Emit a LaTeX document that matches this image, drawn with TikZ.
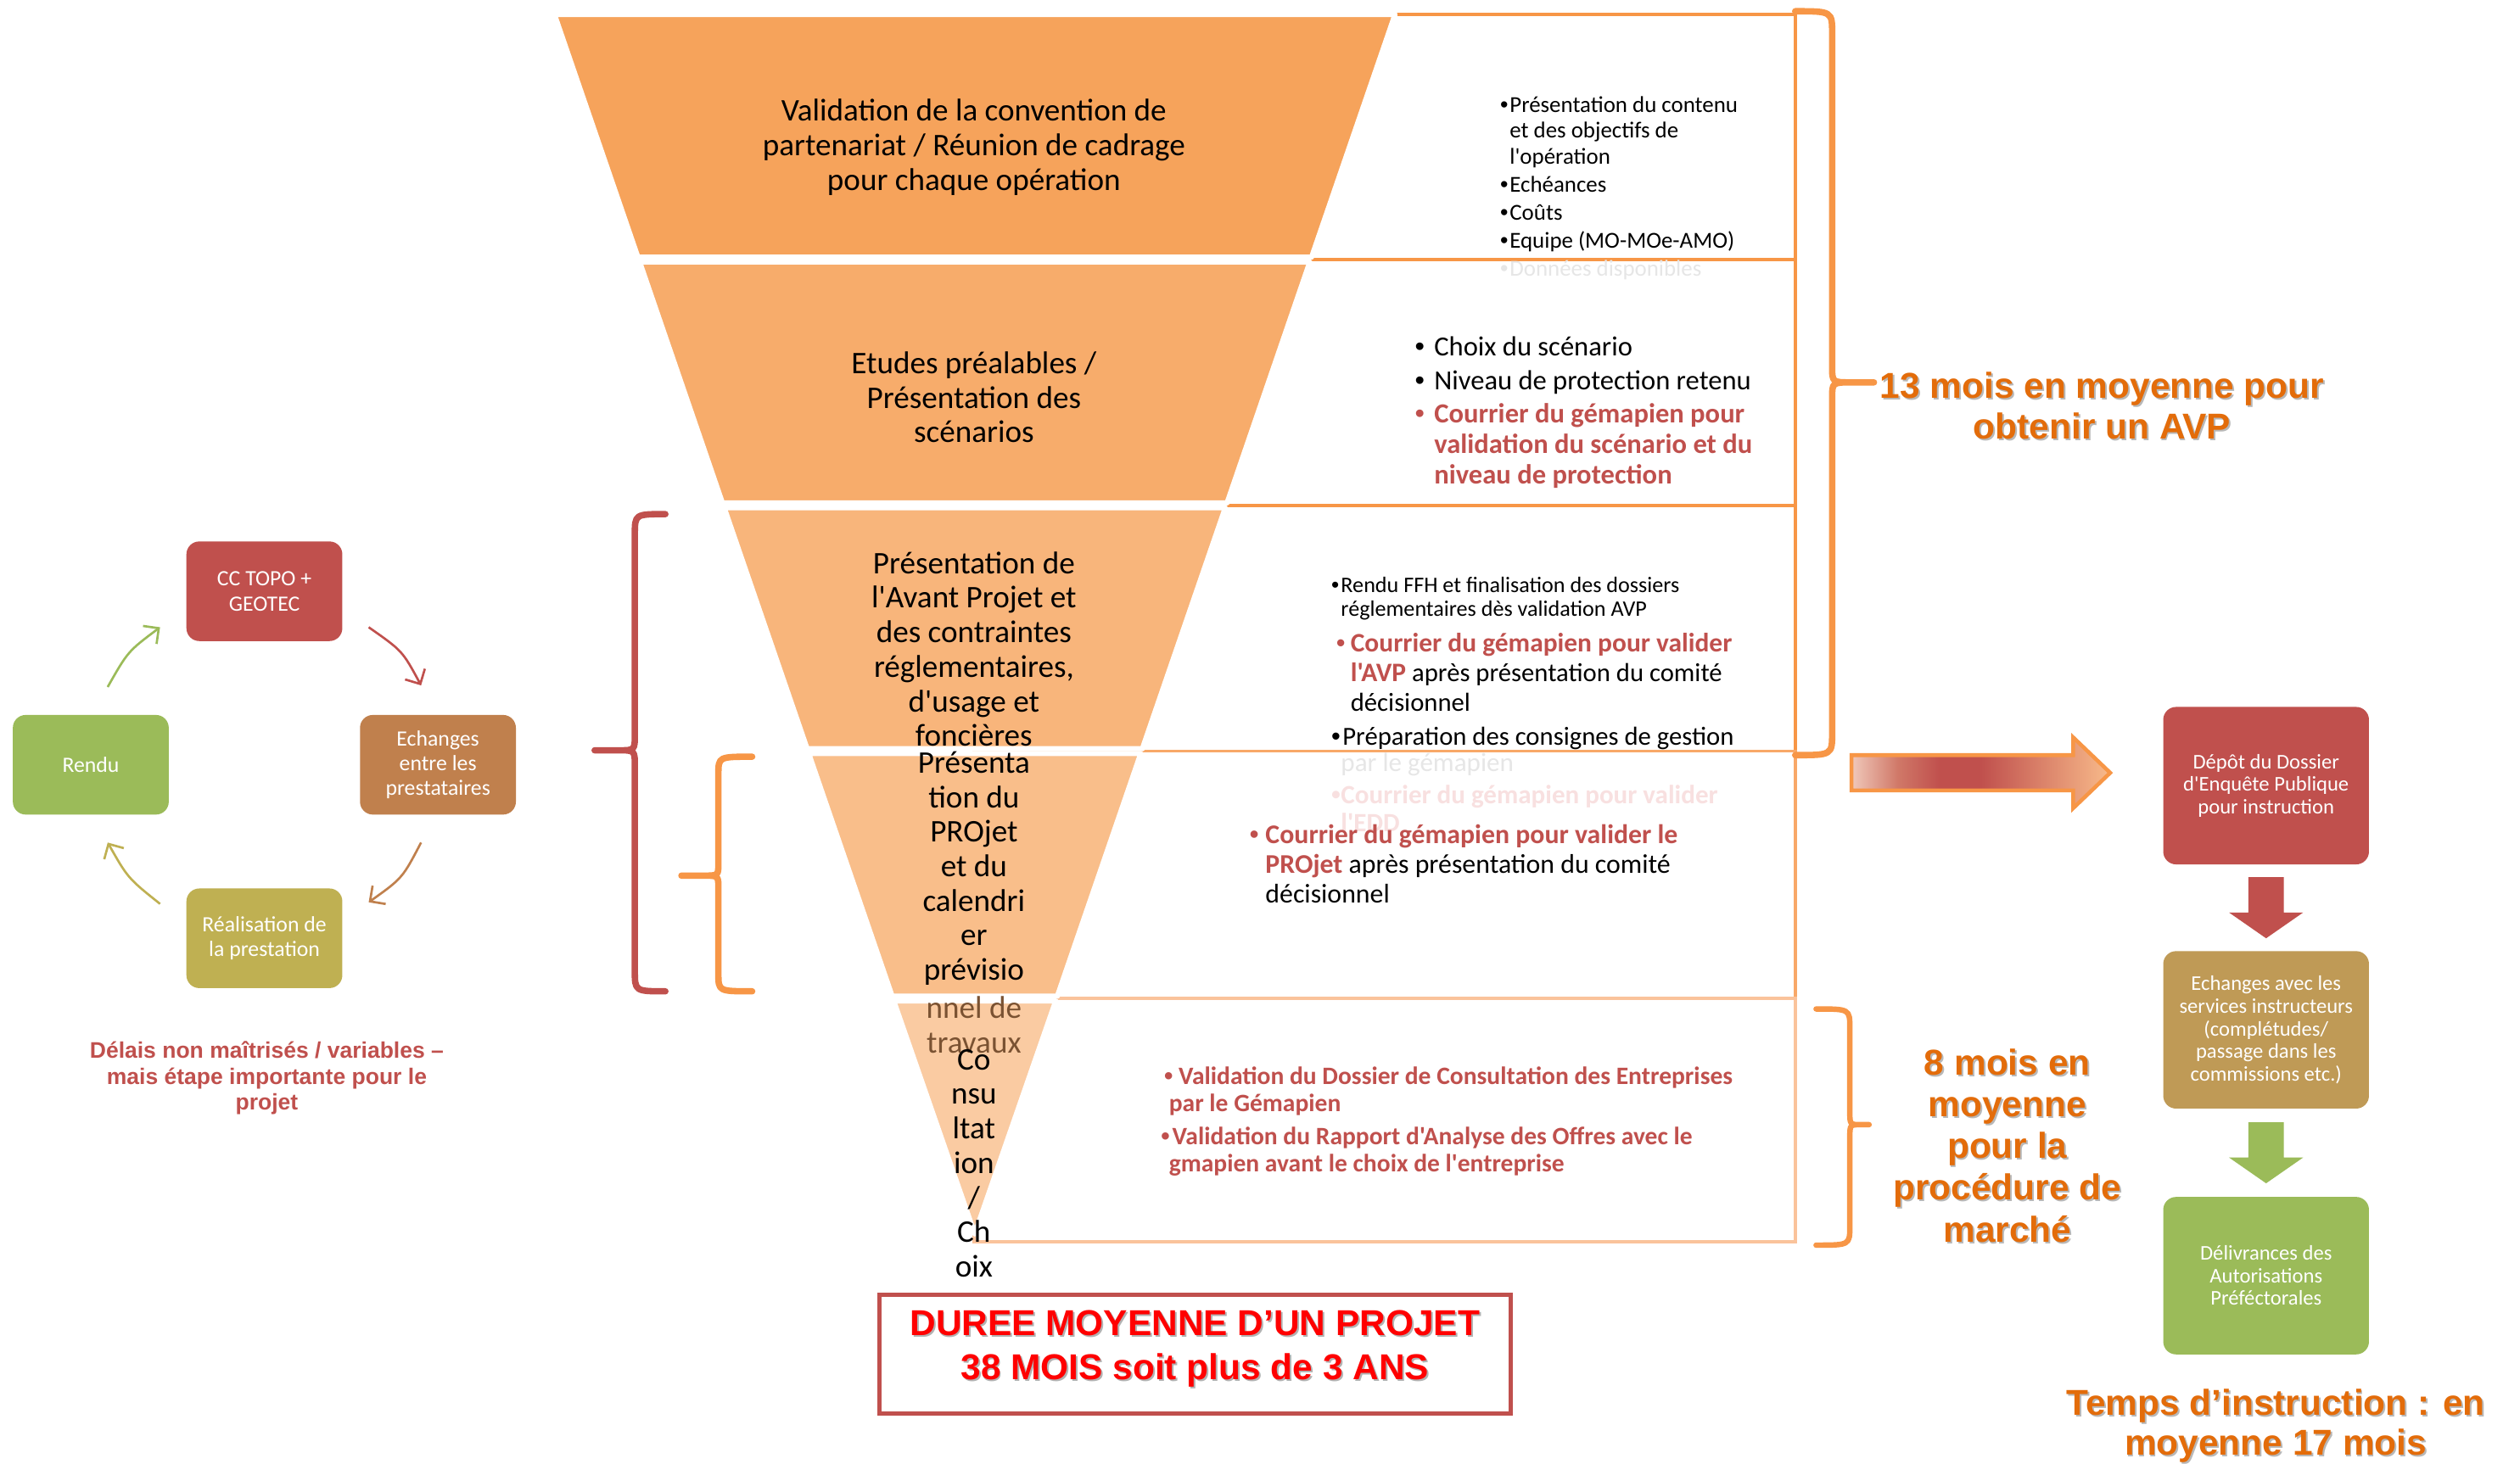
\documentclass[tikz,border=0pt]{standalone}
\usepackage{fontspec}
\newfontfamily\calibrif{Carlito}
\newfontfamily\arialf{Liberation Sans}
\setmainfont{Carlito}
\usetikzlibrary{arrows.meta,calc}

\definecolor{cRed}{HTML}{C0504D}
\definecolor{cOrange}{HTML}{F79646}
\definecolor{cGreen}{HTML}{9BBB59}
\definecolor{cBrown}{HTML}{C0804D}
\definecolor{cOlive}{HTML}{BFB052}
\definecolor{cTan}{HTML}{BF9A56}
\definecolor{fillA}{HTML}{F6A35B}
\definecolor{fillB}{HTML}{F7AC6B}
\definecolor{fillC}{HTML}{F8B57B}
\definecolor{fillD}{HTML}{F9BE8A}
\definecolor{fillE}{HTML}{FACBA2}
\definecolor{lineD}{HTML}{F8A868}
\definecolor{lineE}{HTML}{FAC39B}
\definecolor{txtOrange}{HTML}{E36C0A}
\definecolor{txtBrown}{HTML}{7A5232}
\definecolor{ghostGray}{HTML}{E6E6E6}
\definecolor{ghostPink}{HTML}{F8E0E0}
\definecolor{alertRed}{HTML}{FF0000}
\definecolor{arA}{HTML}{F0C8BA}
\definecolor{arB}{HTML}{D07868}
\definecolor{arC}{HTML}{F8BA8A}

% list bullet, taken from the sans family for a rounder dot
\newcommand\bul[1]{\makebox[#1][l]{{\arialf •}}}

\pgfdeclarehorizontalshading{bigarrow}{100bp}{color(0bp)=(arA); color(25bp)=(arA); color(34bp)=(arB); color(42bp)=(cRed); color(50bp)=(cRed); color(75bp)=(arC); color(100bp)=(arC)}

\tikzset{
  rowbox/.style={line width=1pt, fill=white},
  trap/.style={draw=white, line width=1.6pt, line join=round},
  funtxt/.style={align=center, inner sep=0pt, font=\calibrif\fontsize{9.8}{10.75}\selectfont},
  listtxt/.style={anchor=west, align=left, inner sep=0pt},
  cbox/.style={rounded corners=4pt, inner sep=0pt, minimum width=48.5pt, minimum height=31pt,
    align=center, text=white, font=\calibrif\fontsize{6.8}{7.75}\selectfont},
  rbox/.style={rounded corners=4pt, inner sep=0pt, minimum width=64pt, minimum height=49pt,
    align=center, text=white, font=\calibrif\fontsize{6.5}{7}\selectfont},
  bigtxt/.style={align=center, inner sep=0pt, text=txtOrange, font=\arialf\bfseries\fontsize{11.2}{12.5}\selectfont},
  bigshadow/.style={bigtxt, text=black!28},
  brace/.style={line width=2pt, line cap=round, line join=round},
  cyc/.style={line width=0.7pt, -{Straight Barb[length=3.5pt,width=7pt]}},
}

\begin{document}
\begin{tikzpicture}[x=0.5pt,y=-0.5pt]
\useasboundingbox (0,0) rectangle (1568,911);
\fill[white] (0,0) rectangle (1568,911);

% ---- row frames on the right of the funnel
\draw[rowbox, draw=cOrange] (606,9) rectangle (1117,161.5);
\draw[rowbox, draw=cOrange] (606,161.5) rectangle (1117,314.5);
\draw[rowbox, draw=cOrange] (606,314.5) rectangle (1117,467.5);
\draw[rowbox, draw=lineD] (606,467.5) rectangle (1117,621.5);
\draw[rowbox, draw=lineE] (606,621.5) rectangle (1117,773);

% ---- funnel layers
\filldraw[trap, fill=fillA] (345,9) -- (868,9) -- (816.1,160) -- (396.9,160) -- cycle;
\filldraw[trap, fill=fillB] (398.0,163) -- (815.0,163) -- (763.5,313) -- (449.5,313) -- cycle;
\filldraw[trap, fill=fillC] (450.6,316) -- (762.4,316) -- (710.8,466) -- (502.2,466) -- cycle;
\filldraw[trap, fill=fillD] (503.2,469) -- (709.8,469) -- (657.9,620) -- (555.1,620) -- cycle;

\node[funtxt] (f1) at (606,91.7) {Validation de la convention de\\partenariat / Réunion de cadrage\\pour chaque opération};
\node[funtxt] (f2) at (606,247.3) {Etudes préalables /\\Présentation des\\scénarios};
\node[funtxt] (f3) at (606,404) {Présentation de\\l'Avant Projet et\\des contraintes\\réglementaires,\\d'usage et\\foncières};
\node[funtxt] (f4) at (606,540.5) {Présenta\\tion du\\PROjet\\et du\\calendri\\er\\prévisio};

\filldraw[trap, fill=fillE] (556.1,623) -- (656.9,623) -- (606.5,768) -- cycle;
\node[funtxt, text=txtBrown] (f4b) at (606,638) {nnel de\\travaux};
\node[funtxt] (f5) at (606,724) {Co\\nsu\\ltat\\ion\\/\\Ch\\oix};

% ---- descriptions of each stage
\node[listtxt, text=ghostGray, font=\calibrif\fontsize{7.1}{8}\selectfont] (g1) at (933,168) {\bul{3pt}Données disponibles};
\node[listtxt, font=\calibrif\fontsize{7.1}{8}\selectfont] (d1) at (933,108.5)
  {\bul{3pt}Présentation du contenu\\ \hspace*{3pt}et des objectifs de\\ \hspace*{3pt}l'opération\\[0.75pt]
   \bul{3pt}Echéances\\[0.75pt] \bul{3pt}Coûts\\[0.75pt] \bul{3pt}Equipe (MO-MOe-AMO)};

\node[listtxt, font=\calibrif\fontsize{8.6}{9.5}\selectfont] (d2) at (880,256.8)
  {\bul{6pt}Choix du scénario\\[1pt] \bul{6pt}Niveau de protection retenu\\[1pt]
   \textcolor{cRed}{\bul{6pt}\textbf{Courrier du gémapien pour}}\\
   \hspace*{6pt}\textcolor{cRed}{\textbf{validation du scénario et du}}\\
   \hspace*{6pt}\textcolor{cRed}{\textbf{niveau de protection}}};

\node[listtxt, font=\calibrif\fontsize{6.9}{7.6}\selectfont] (d3a) at (828,372.5)
  {\bul{3pt}Rendu FFH et finalisation des dossiers\\ \hspace*{3pt}réglementaires dès validation AVP};
\node[listtxt, text=ghostGray, font=\calibrif\fontsize{8.2}{9.25}\selectfont] (g2) at (834,476) {par le gémapien};
\node[listtxt, text=ghostPink, font=\calibrif\bfseries\fontsize{8.2}{9.25}\selectfont] (g3) at (828,496) {\bul{3pt}Courrier du gémapien pour valider};
\node[listtxt, text=ghostPink, font=\calibrif\bfseries\fontsize{8.2}{9.25}\selectfont] (g4) at (834,512) {l'EDD};
\node[listtxt, font=\calibrif\fontsize{8.1}{9.25}\selectfont] (d3b) at (828,430.5)
  {\hspace*{1.5pt}\textcolor{cRed}{\bul{4.5pt}\textbf{\fontsize{8.3}{9.25}\selectfont Courrier du gémapien pour valider}}\\
   \hspace*{6pt}\textcolor{cRed}{\textbf{\fontsize{8.3}{9.25}\selectfont l'AVP}} après présentation du comité\\
   \hspace*{6pt}décisionnel\\[1.25pt]
   \bul{3.5pt}Préparation des consignes de gestion};

\node[listtxt, font=\calibrif\fontsize{8.4}{9.25}\selectfont] (d4) at (777,537.5)
  {\textcolor{cRed}{\bul{5pt}\textbf{Courrier du gémapien pour valider le}}\\
   \hspace*{5pt}\textcolor{cRed}{\textbf{PROjet}} après présentation du comité\\
   \hspace*{5pt}décisionnel};

\node[listtxt, text=cRed, font=\calibrif\bfseries\fontsize{7.8}{8.6}\selectfont] (d5) at (722,698)
  {\hspace*{1pt}\bul{4.5pt}Validation du Dossier de Consultation des Entreprises\\
   \hspace*{2.5pt}par le Gémapien\\[1.5pt]
   \bul{3.5pt}Validation du Rapport d'Analyse des Offres avec le\\
   \hspace*{2.5pt}gmapien avant le choix de l'entreprise};

% ---- braces
\draw[brace, cOrange] (1117,7) .. controls (1140,7) .. (1140,21) -- (1140,228)
  .. controls (1140,238) .. (1152,238) -- (1166,238) -- (1152,238)
  .. controls (1140,238) .. (1140,248) -- (1140,456) .. controls (1140,470) .. (1117,470);
\draw[brace, cOrange, line width=1.7pt] (1130,628) .. controls (1151,628) .. (1151,640) -- (1151,692)
  .. controls (1151,700) .. (1158,700) -- (1163,700) -- (1158,700)
  .. controls (1151,700) .. (1151,708) -- (1151,763) .. controls (1151,775) .. (1130,775);
\draw[brace, cRed] (414,320) .. controls (395,320) .. (395,333) -- (395,457)
  .. controls (395,467) .. (385,467) -- (370,467) -- (385,467)
  .. controls (395,467) .. (395,477) -- (395,604) .. controls (395,617) .. (414,617);
\draw[brace, cOrange] (468,471) .. controls (447,471) .. (447,482) -- (447,537)
  .. controls (447,545) .. (438,545) -- (424,545) -- (438,545)
  .. controls (447,545) .. (447,553) -- (447,606) .. controls (447,617) .. (468,617);

% ---- durations
\node[bigshadow] (t13s) at (1309,253.5) {13 mois en moyenne pour\\obtenir un AVP};
\node[bigtxt] (t13) at (1308,252.5) {13 mois en moyenne pour\\obtenir un AVP};
\node[bigshadow, font=\arialf\bfseries\fontsize{11.2}{13}\selectfont] (t8s) at (1250,714) {8 mois en\\moyenne\\pour la\\procédure de\\marché};
\node[bigtxt, font=\arialf\bfseries\fontsize{11.2}{13}\selectfont] (t8) at (1249,713) {8 mois en\\moyenne\\pour la\\procédure de\\marché};
\node[bigshadow] (t17s) at (1417,888.5) {Temps d’instruction : en\\moyenne 17 mois};
\node[bigtxt] (t17) at (1416,887.5) {Temps d’instruction : en\\moyenne 17 mois};

% ---- transfer arrow
\draw[cOrange, line width=1.2pt, line join=miter, shading=bigarrow]
  (1152,470) -- (1290,470) -- (1290,459) -- (1313,481) -- (1290,503) -- (1290,492) -- (1152,492) -- cycle;

% ---- authorisation procedure
\node[rbox, fill=cRed] (depot) at (1410,489) {Dépôt du Dossier\\d'Enquête Publique\\pour instruction};
\node[rbox, fill=cTan] (echg2) at (1410,641) {Echanges avec les\\services instructeurs\\(complétudes/\\passage dans les\\commissions etc.)};
\node[rbox, fill=cGreen] (deliv) at (1410,794) {Délivrances des\\Autorisations\\Préféctorales};
\coordinate (ar1) at ($(depot.south)!0.5!(echg2.north)$);
\coordinate (ar2) at ($(echg2.south)!0.5!(deliv.north)$);
\fill[cRed] (ar1) ++(-11,-19) -- ++(22,0) -- ++(0,22) -- ++(12,0) -- ++(-23,16) -- ++(-23,-16) -- ++(12,0) -- cycle;
\fill[cGreen] (ar2) ++(-11,-19) -- ++(22,0) -- ++(0,22) -- ++(12,0) -- ++(-23,16) -- ++(-23,-16) -- ++(12,0) -- cycle;

% ---- service provider cycle
\node[cbox, fill=cRed] (topo) at (164.5,368) {CC TOPO +\\GEOTEC};
\node[cbox, fill=cBrown] (echg) at (272.5,476) {Echanges\\entre les\\prestataires};
\node[cbox, fill=cOlive] (real) at (164.5,584) {Réalisation de\\la prestation};
\node[cbox, fill=cGreen] (rendu) at (56.5,476) {Rendu};
\draw[cyc, cRed] ($(topo.south east)+(16,-9)$) .. controls ($(topo.south east)+(37,5.7)$) .. ($(echg.north)+(-10.5,-18)$);
\draw[cyc, cBrown] ($(echg.south)+(-10.5,17)$) .. controls ($(real.north east)+(37,-6)$) .. ($(real.north east)+(16,9)$);
\draw[cyc, cOlive] ($(real.north west)+(-16,10)$) .. controls ($(real.north west)+(-36,-6)$) .. ($(rendu.south)+(10.5,17)$);
\draw[cyc, cGreen] ($(rendu.north)+(10.5,-17)$) .. controls ($(topo.south west)+(-36,6)$) .. ($(topo.south west)+(-16,-9)$);
\node[align=center, inner sep=0pt, text=cRed, font=\arialf\bfseries\fontsize{7}{8}\selectfont] (delais) at (166,671)
  {Délais non maîtrisés / variables –\\mais étape importante pour le\\projet};

% ---- overall duration
\node[draw=cRed, line width=1.3pt, minimum width=196.5pt, minimum height=37pt, inner sep=0pt] (duree) at (743.5,843) {};
\node[align=center, inner sep=0pt, text=black!30, font=\arialf\bfseries\fontsize{11.2}{13.5}\selectfont] (dureesh) at (744.5,840.5)
  {DUREE MOYENNE D’UN PROJET\\38 MOIS soit plus de 3 ANS};
\node[align=center, inner sep=0pt, text=alertRed, font=\arialf\bfseries\fontsize{11.2}{13.5}\selectfont] (dureetxt) at (743.5,839.5)
  {DUREE MOYENNE D’UN PROJET\\38 MOIS soit plus de 3 ANS};
\end{tikzpicture}
\end{document}
